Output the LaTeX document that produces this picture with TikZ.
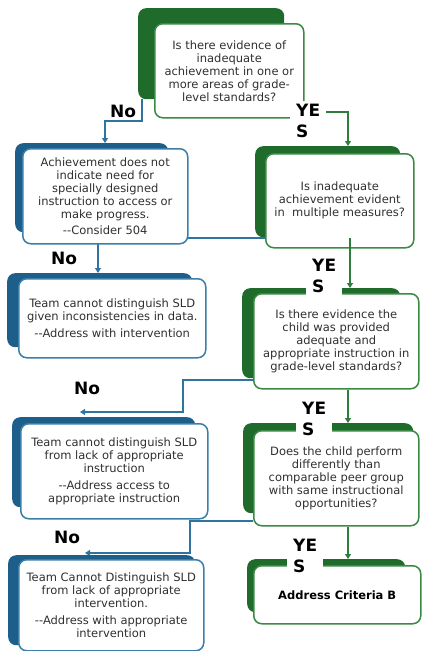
\documentclass[tikz,border=0pt]{standalone}
\usepackage{fontspec}
\setmainfont{DejaVu Sans}
\usetikzlibrary{arrows.meta,calc,backgrounds}
\definecolor{gdark}{HTML}{1E6B2C}
\definecolor{gline}{HTML}{3A8A44}
\definecolor{gconnc}{HTML}{2F7D3A}
\definecolor{bdark}{HTML}{1D5F8A}
\definecolor{bline}{HTML}{3B7FA8}
\definecolor{bconnc}{HTML}{2F74A0}
\definecolor{txt}{HTML}{303030}
\begin{document}
\begin{tikzpicture}[x=1pt,y=-1pt,
  shadowbox/.style={rounded corners=8pt, inner sep=0pt, anchor=north west},
  gshadow/.style={shadowbox, fill=gdark},
  bshadow/.style={shadowbox, fill=bdark},
  mainbox/.style={rounded corners=8pt, inner sep=0pt, anchor=north west, fill=white,
    line width=1.5pt, align=center, text=txt, font=\fontsize{11.5}{13}\selectfont},
  gbox/.style={mainbox, draw=gline},
  bbox/.style={mainbox, draw=bline},
  conn/.style={line width=1.8pt, -{Triangle[length=5pt,width=6pt]}},
  gconn/.style={conn, draw=gconnc, color=gconnc},
  bconn/.style={conn, draw=bconnc, color=bconnc},
  yeslbl/.style={fill=white, inner xsep=6pt, inner ysep=3pt, anchor=base west, align=left,
    font=\fontsize{17}{21}\selectfont\bfseries, text=black},
  nolbl/.style={inner sep=0pt, font=\fontsize{17}{21}\selectfont\bfseries, text=black}
]
\useasboundingbox (0,0) rectangle (422,651);

% shadows
\node[gshadow, minimum width=146pt, minimum height=91pt] (q1s) at (138,8) {};
\node[bshadow, minimum width=153pt, minimum height=89pt] (a1s) at (15,143) {};
\node[gshadow, minimum width=145pt, minimum height=91pt] (q2s) at (255,146) {};
\node[bshadow, minimum width=185pt, minimum height=74pt] (a2s) at (7,273) {};
\node[gshadow, minimum width=158pt, minimum height=90pt] (q3s) at (242,288) {};
\node[bshadow, minimum width=183pt, minimum height=90pt] (a3s) at (12,417) {};
\node[gshadow, minimum width=170pt, minimum height=90pt] (q4s) at (243,423) {};
\node[gshadow, minimum width=158pt, minimum height=53pt] (bs) at (247,559) {};
\node[bshadow, minimum width=187pt, minimum height=90pt] (a4s) at (8,555) {};

% boxes
\node[gbox, minimum width=149pt, minimum height=94pt] (q1) at (154,23)
  {Is there evidence of\\inadequate\\achievement in one or\\more areas of grade-\\level standards?};
\node[bbox, minimum width=165pt, minimum height=95pt] (a1) at (22,148)
  {Achievement does not\\indicate need for\\specially designed\\instruction to access or\\make progress.\\[3.5pt]-{}-Consider 504};
\node[gbox, minimum width=148pt, minimum height=94pt] (q2) at (265,153)
  {Is inadequate\\achievement evident\\in\ \ multiple measures?};
\node[bbox, minimum width=187pt, minimum height=79pt] (a2) at (18,278)
  {Team cannot distinguish SLD\\given inconsistencies in data.\\[3.5pt]-{}-Address with intervention};
\node[gbox, minimum width=165pt, minimum height=95pt] (q3) at (253,293)
  {Is there evidence the\\child was provided\\adequate and\\appropriate instruction in\\grade-level standards?};
\node[bbox, minimum width=187pt, minimum height=95pt] (a3) at (20,423)
  {Team cannot distinguish SLD\\from lack of appropriate\\instruction\\[3.5pt]-{}-Address access to\\appropriate instruction};
\node[gbox, minimum width=165pt, minimum height=95pt] (q4) at (253,430)
  {Does the child perform\\differently than\\comparable peer group\\with same instructional\\opportunities?};
\node[gbox, minimum width=167pt, minimum height=58pt, font=\fontsize{11.5}{13}\selectfont\bfseries, text=black] (b) at (253,565)
  {Address Criteria B};
\node[bbox, minimum width=185pt, minimum height=91pt] (a4) at (18,559)
  {Team Cannot Distinguish SLD\\from lack of appropriate\\intervention.\\[3.5pt]-{}-Address with appropriate\\intervention};

% bend coordinates
\coordinate (k1) at (105,121);
\coordinate (g1) at (348,112);
\coordinate (k2) at (98,238);
\coordinate (g2) at (350,238);
\coordinate (k3) at (183,380);
\coordinate (k3e) at (80,412);
\coordinate (g3) at (348,0);
\coordinate (k4) at (190,521);
\coordinate (k4e) at (85,553);

% connectors that run under the boxes
\begin{pgfonlayer}{background}
\draw[bconn] ($(q1s.south west)+(4,0)$) |- (k1) -- (k1 |- a1s.north);
\draw[gconn] (q1.east |- g1) -- (g1) -- (g1 |- q2s.north);
\draw[bconn] (q2.west |- k2) -- (k2) -- (k2 |- a2s.north);
\draw[bconn] (q3.west |- k3) -- (k3) |- (k3e);
\draw[gconn] (q3.south -| g3) -- (g3 |- q4s.north);
\draw[bconn] (q4.west |- k4) -- (k4) |- (k4e);
\draw[gconn] (q4.south -| g3) -- (g3 |- bs.north);
\end{pgfonlayer}
\draw[gconn] (g2) -- (g2 |- q3s.north);

% labels
\node[yeslbl] (y1) at (290,137) {YE\\S};
\node[yeslbl] (y2) at (306,292) {YE\\S};
\node[yeslbl] (y3) at (296,435) {YE\\S};
\node[yeslbl] (y4) at (287,572) {YE\\S};
\node[nolbl] (n1) at (123,111) {No};
\node[nolbl] (n2) at (64,258) {No};
\node[nolbl] (n3) at (87,388) {No};
\node[nolbl] (n4) at (67,537) {No};
\end{tikzpicture}
\end{document}
